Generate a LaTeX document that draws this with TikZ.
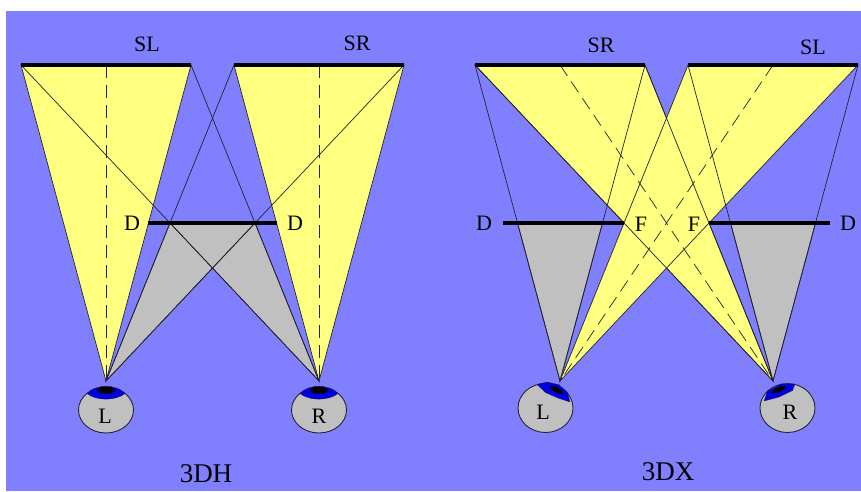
\documentclass[tikz,border=0pt]{standalone}
\usepackage{fontspec}
\setmainfont{Liberation Serif}
\usetikzlibrary{calc}
\definecolor{viewbg}{RGB}{128,128,255}
\definecolor{viewlight}{RGB}{255,255,128}
\definecolor{viewgrey}{RGB}{192,192,192}
\definecolor{viewblue}{RGB}{0,0,224}
\definecolor{viewline}{RGB}{35,35,50}
\tikzset{
  ray/.style={draw=viewline, line width=0.7pt, line join=miter},
  lit/.style={ray, fill=viewlight},
  shade/.style={ray, fill=viewgrey},
  axis/.style={draw=viewline, line width=0.7pt, dash pattern=on 13pt off 7pt},
  bar/.style={draw=black, line width=3.2pt},
  tag/.style={font=\fontsize{22}{24}\selectfont, inner sep=0pt, text=black},
  title/.style={font=\fontsize{27}{30}\selectfont, inner sep=0pt, text=black},
  eyeball/.style={draw=viewline, line width=0.9pt, fill=viewgrey},
  iris/.style={fill=viewblue, draw=viewline, line width=0.3pt},
  pupil/.style={fill=black}
}

\begin{document}
\begin{tikzpicture}[x=1pt,y=-1pt]
  \useasboundingbox (0,0) rectangle (861,491);
  \fill[viewbg] (6,11) rectangle (861,491);

  % 3DH
  \coordinate (hll) at (21,65);
  \coordinate (hlr) at (191,65);
  \coordinate (hrl) at (234,65);
  \coordinate (hrr) at (404,65);
  \coordinate (hel) at (106,381);
  \coordinate (her) at (319,381);

  \draw[shade] ($(hrl)!.5!(hel)$) -- ($(hlr)!.5!(her)$) -- (her) -- ($(hll)!.5!(her)$) -- ($(hrr)!.5!(hel)$) -- (hel) -- cycle;
  \draw[lit] (hll) -- (hlr) -- (hel) -- cycle;
  \draw[lit] (hrl) -- (hrr) -- (her) -- cycle;
  \draw[ray] (hll) -- (her);
  \draw[ray] (hlr) -- (her);
  \draw[ray] (hrl) -- (hel);
  \draw[ray] (hrr) -- (hel);
  \draw[axis] (106,65) -- (hel);
  \draw[axis] (319,65) -- (her);
  \draw[bar] (hll) -- (hlr);
  \draw[bar] (hrl) -- (hrr);
  \draw[bar] (148,223) -- (277,223);

  \node[tag] (hsl) at (147,44) {SL};
  \node[tag] (hsr) at (357,43) {SR};
  \node[tag] (hdl) at (132,223) {D};
  \node[tag] (hdr) at (295,223) {D};

  \draw[eyeball] (106,410) ellipse [x radius=27.5, y radius=23];
  \draw[iris] (87,393.5) .. controls (95,384) and (117,384) .. (125,393.5) .. controls (116,401) and (96,401) .. (87,393.5) -- cycle;
  \fill[pupil] (96.5,390) -- (101,386.5) -- (111,386.5) -- (115.5,390) -- (111,393.5) -- (101,393.5) -- cycle;
  \node[tag] (heyel) at (105,416) {L};

  \draw[eyeball] (319,410) ellipse [x radius=27.5, y radius=23];
  \draw[iris] (300,393.5) .. controls (308,384) and (330,384) .. (338,393.5) .. controls (329,401) and (309,401) .. (300,393.5) -- cycle;
  \fill[pupil] (309.5,390) -- (314,386.5) -- (324,386.5) -- (328.5,390) -- (324,393.5) -- (314,393.5) -- cycle;
  \node[tag] (heyer) at (319,416) {R};

  \node[title] (hname) at (206,474) {3DH};

  % 3DX
  \coordinate (xrl) at (475,65);
  \coordinate (xrr) at (645,65);
  \coordinate (xsl) at (688,65);
  \coordinate (xsr) at (858,65);
  \coordinate (xel) at (560,381);
  \coordinate (xer) at (773,381);

  \draw[shade] ($(xrl)!.5!(xel)$) -- ($(xrr)!.5!(xel)$) -- (xel) -- cycle;
  \draw[shade] ($(xsl)!.5!(xer)$) -- ($(xsr)!.5!(xer)$) -- (xer) -- cycle;
  \draw[lit] (xrl) -- (xrr) -- (xer) -- cycle;
  \draw[lit] (xsl) -- (xsr) -- (xel) -- cycle;
  \draw[ray] (xrl) -- (xer);
  \draw[ray] (xrr) -- (xer);
  \draw[ray] (xrl) -- (xel);
  \draw[ray] (xrr) -- (xel);
  \draw[ray] (xsl) -- (xer);
  \draw[ray] (xsr) -- (xer);
  \draw[axis] (560,65) -- (xer);
  \draw[axis] (773,65) -- (xel);
  \draw[bar] (xrl) -- (xrr);
  \draw[bar] (xsl) -- (xsr);
  \draw[bar] (503,223) -- (624,223);
  \draw[bar] (709,223) -- (830,223);

  \node[tag] (xsrt) at (601,45) {SR};
  \node[tag] (xslt) at (813,47) {SL};
  \node[tag] (xdl) at (484,223) {D};
  \node[tag] (xfl) at (641,224) {F};
  \node[tag] (xfr) at (694,224) {F};
  \node[tag] (xdr) at (848,223) {D};

  \draw[eyeball] (545.5,408) ellipse [x radius=27.5, y radius=24.5];
  \draw[iris] (537,384.5) -- (546.7,382) -- (559,384.7) -- (567.5,392.5) -- (570,402) -- (558,398) -- (545.5,392.5) -- cycle;
  \fill[pupil] (549.5,386.5) -- (555,386) -- (561,389.5) -- (563.5,394.5) -- (558,393.5) -- (552.5,390) -- cycle;
  \node[tag] (xeyel) at (543,412) {L};

  \draw[eyeball] (787.5,408) ellipse [x radius=27.5, y radius=24.5];
  \draw[iris] (764,401) -- (767.5,391) -- (781,384) -- (795,384) -- (792.5,390.5) -- (779,397) -- cycle;
  \fill[pupil] (771,393) -- (775,388.5) -- (781,386) -- (786.5,386) -- (785,389) -- (778.5,392.5) -- cycle;
  \node[tag] (xeyer) at (790,412) {R};

  \node[title] (xname) at (668,472) {3DX};
\end{tikzpicture}
\end{document}
